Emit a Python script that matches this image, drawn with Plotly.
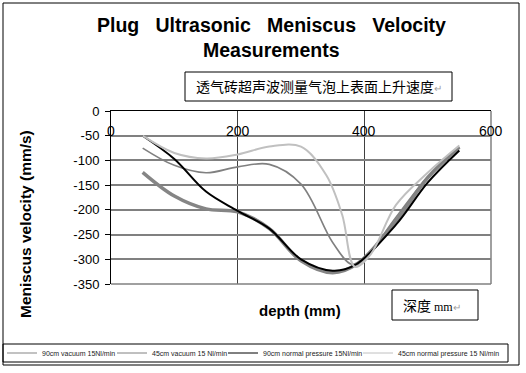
import plotly.graph_objects as go

# ---- data ----
s1_name = "90cm vacuum 15Nl/min"
s1_x = [50, 100, 150, 200, 250, 300, 350, 390, 450, 500, 550]
s1_y = [-124, -172, -198, -204, -238, -303, -327, -308, -222, -135, -73]

s2_name = "45cm vacuum 15 Nl/min"
s2_x = [50, 100, 150, 200, 250, 300, 350, 380, 400, 450, 500, 550]
s2_y = [-75, -110, -125, -113, -108, -148, -266, -310, -298, -215, -133, -73]

s3_name = "90cm normal pressure 15Nl/min"
s3_x = [50, 100, 150, 200, 250, 300, 350, 385, 450, 500, 550]
s3_y = [-50, -97, -163, -202, -238, -300, -323, -312, -230, -145, -80]

s4_name = "45cm normal pressure 15 Nl/min"
s4_x = [50, 100, 150, 200, 250, 300, 340, 365, 385, 410, 450, 500, 550]
s4_y = [-50, -85, -96, -88, -72, -72, -130, -210, -315, -290, -190, -125, -70]

x_ticks = [0, 200, 400, 600]
y_ticks = [0, -50, -100, -150, -200, -250, -300, -350]

title_l1 = "Plug Ultrasonic Meniscus Velocity"
title_l2 = "Measurements"
note_cn = "透气砖超声波测量气泡上表面上升速度"
note_depth = "深度"

# ---- layout helpers (pixel -> paper) ----
W, H = 526, 373
L, R, T, B = 111, 491, 111, 284
def px(x): return (x - L) / (R - L)
def py(y): return (B - y) / (B - T)

SANS = "Liberation Sans, Arial, sans-serif"
CJK = "Noto Sans CJK SC, sans-serif"

fig = go.Figure()
series = [
    (s1_name, s1_x, s1_y, "#858585", 3.5),
    (s2_name, s2_x, s2_y, "#808080", 1.6),
    (s3_name, s3_x, s3_y, "#000000", 2.0),
    (s4_name, s4_x, s4_y, "#c0c0c0", 2.0),
]
legend_ids = ["legend", "legend2", "legend3", "legend4"]
legend_left = [2, 112, 223, 358]   # pixel x of each legend entry

for name, xs, ys, col, w in series:
    fig.add_trace(go.Scatter(x=xs, y=ys, name=name, mode="lines", showlegend=False,
                             line=dict(color=col, width=w, shape="spline", smoothing=1.0)))
# legend entries (thin sample lines as in the reference legend)
for (name, xs, ys, col, w), lid in zip(series, legend_ids):
    fig.add_trace(go.Scatter(x=[None], y=[None], name=name, mode="lines", showlegend=True,
                             legend=lid, line=dict(color=col, width=1)))

shapes = []
shapes.append(dict(type="rect", xref="paper", yref="paper", x0=px(3), x1=px(519), y0=py(365), y1=py(3),
                   line=dict(color="black", width=1), layer="below"))
shapes.append(dict(type="line", xref="paper", yref="paper", x0=1, x1=1, y0=0, y1=1,
                   line=dict(color="#808080", width=1.5)))
shapes.append(dict(type="line", xref="paper", yref="paper", x0=0, x1=1, y0=0, y1=0,
                   line=dict(color="#808080", width=1.5)))
shapes.append(dict(type="rect", xref="paper", yref="paper", x0=px(185), x1=px(452), y0=py(101), y1=py(72),
                   line=dict(color="black", width=1), fillcolor="white"))
shapes.append(dict(type="rect", xref="paper", yref="paper", x0=px(392), x1=px(478), y0=py(320), y1=py(290),
                   line=dict(color="black", width=1), fillcolor="white"))
shapes.append(dict(type="rect", xref="paper", yref="paper", x0=px(3), x1=px(508), y0=py(362), y1=py(344),
                   line=dict(color="black", width=1)))

ret = "<span style='font-size:10px;color:#a0a0a0'>↵</span>"
sp = " \u00a0\u00a0"
annotations = [
    dict(text="<b>" + title_l1.replace(" ", sp) + "</b>", xref="paper", yref="paper", x=px(271), y=py(25),
         showarrow=False, font=dict(family=SANS, size=19.5, color="black"), xanchor="center", yanchor="middle"),
    dict(text="<b>" + title_l2 + "</b>", xref="paper", yref="paper", x=px(271), y=py(50),
         showarrow=False, font=dict(family=SANS, size=19.5, color="black"), xanchor="center", yanchor="middle"),
    dict(text=note_cn + ret, xref="paper", yref="paper", x=px(194), y=py(86.5),
         showarrow=False, font=dict(family=CJK, size=14, color="black"), xanchor="left", yanchor="middle"),
    dict(text=note_depth + "<span style='font-family:Liberation Serif;font-size:12px'> mm</span>" + ret,
         xref="paper", yref="paper", x=px(401), y=py(305),
         showarrow=False, font=dict(family=CJK, size=14, color="black"), xanchor="left", yanchor="middle"),
    dict(text="<b>depth (mm)</b>", xref="paper", yref="paper", x=px(300), y=py(310),
         showarrow=False, font=dict(family=SANS, size=15, color="black"), xanchor="center", yanchor="middle"),
    dict(text="<b>Meniscus velocity (mm/s)</b>", xref="paper", yref="paper", x=px(25), y=py(224),
         showarrow=False, textangle=-90, font=dict(family=SANS, size=15.5, color="black"),
         xanchor="center", yanchor="middle"),
]
for v in x_ticks:
    annotations.append(dict(text=str(v), xref="x", yref="paper", x=v, y=py(131),
                            showarrow=False, font=dict(family=SANS, size=14, color="black"),
                            xanchor="center", yanchor="middle"))

legend_common = dict(orientation="h", yanchor="middle", xanchor="left",
                     font=dict(family=SANS, size=7, color="#222222"), bgcolor="rgba(0,0,0,0)",
                     borderwidth=0, itemwidth=30)
legend_layout = {lid: dict(legend_common, x=px(lx), y=py(353))
                 for lid, lx in zip(legend_ids, legend_left)}

fig.update_layout(
    width=W, height=H,
    margin=dict(l=L, r=W - R, t=T, b=H - B, pad=0, autoexpand=False),
    paper_bgcolor="white", plot_bgcolor="white",
    showlegend=True,
    shapes=shapes, annotations=annotations,
    xaxis=dict(range=[0, 600], tickvals=x_ticks, showticklabels=False,
               side="top", ticks="",
               showline=True, linecolor="black", linewidth=1,
               showgrid=True, gridcolor="#404040", gridwidth=1, zeroline=False),
    yaxis=dict(range=[-350, 0], tickvals=y_ticks, ticktext=[str(v) for v in y_ticks],
               ticks="outside", ticklen=5, tickcolor="black", tickwidth=1,
               showline=True, linecolor="black", linewidth=1, ticklabelstandoff=3,
               showgrid=True, gridcolor="#808080", gridwidth=1.5, zeroline=False,
               tickfont=dict(family=SANS, size=13, color="black")),
    **legend_layout,
)

fig.write_html("out.html", config={"displayModeBar": False},
               post_script="document.body.style.margin='0';")
